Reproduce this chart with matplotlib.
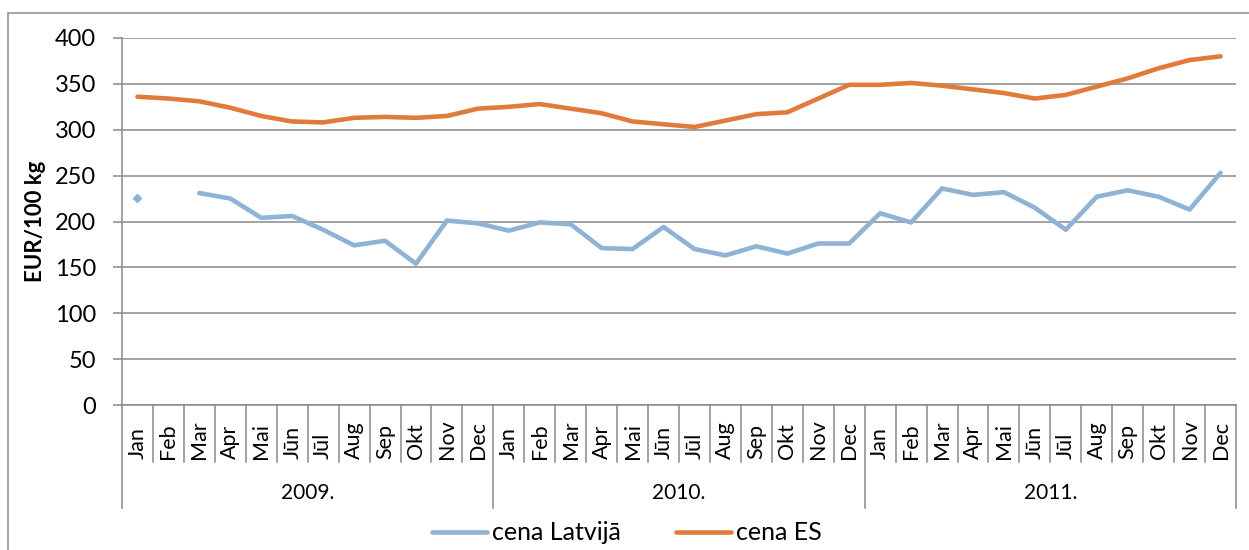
import numpy as np
import matplotlib
matplotlib.use("Agg")
import matplotlib.pyplot as plt
import matplotlib.transforms as mtransforms
from matplotlib.patches import Rectangle
from matplotlib.lines import Line2D

plt.rcParams['font.family'] = ['Lato', 'DejaVu Sans']

months = ["Jan", "Feb", "Mar", "Apr", "Mai", "Jūn", "Jūl", "Aug", "Sep", "Okt", "Nov", "Dec"]
years = ["2009.", "2010.", "2011."]

cena_latvija = [226, np.nan, 231, 225, 204, 206, 191, 174, 179, 154, 201, 198,
                190, 199, 197, 171, 170, 194, 170, 163, 173, 165, 176, 176,
                209, 199, 236, 229, 232, 215, 191, 227, 234, 227, 213, 253]
cena_es = [336, 334, 331, 324, 315, 309, 308, 313, 314, 313, 315, 323,
           325, 328, 323, 318, 309, 306, 303, 310, 317, 319, 334, 349,
           349, 351, 348, 344, 340, 334, 338, 347, 356, 367, 376, 380]

blue = "#8EB3D4"
orange = "#E07B3D"
grid = "#898989"

W, H = 1249, 550
fig = plt.figure(figsize=(W / 100, H / 100), dpi=100)
fig.patches.append(Rectangle((8 / W, -0.1), 1.2, 1 - 13 / H + 0.1, fill=False,
                             edgecolor="#8C8C8C", lw=1.1, transform=fig.transFigure))

ax = fig.add_axes([122 / W, 1 - 405 / H, (1236 - 122) / W, (405 - 38) / H])
x = np.arange(len(cena_es))
lv = np.array(cena_latvija, dtype=float)

ax.plot(x, lv, color=blue, lw=3.3, solid_capstyle='round', solid_joinstyle='round')
ax.plot(x, cena_es, color=orange, lw=3.3, solid_capstyle='round', solid_joinstyle='round')

# isolated points (neighbours missing) show as a small marker
for i in range(len(lv)):
    left = np.isnan(lv[i - 1]) if i > 0 else True
    right = np.isnan(lv[i + 1]) if i < len(lv) - 1 else True
    if not np.isnan(lv[i]) and left and right:
        ax.plot(x[i], lv[i], marker='D', ms=4, color=blue, mec=blue)

ax.set_xlim(-0.5, len(x) - 0.5)
ax.set_ylim(0, 400)
ax.set_yticks(range(0, 401, 50))
ax.yaxis.grid(True, color=grid, lw=1.1)
ax.set_axisbelow(True)
for s in ["top", "right"]:
    ax.spines[s].set_visible(False)
for s in ["left", "bottom"]:
    ax.spines[s].set_color(grid)
    ax.spines[s].set_linewidth(1.1)
ax.tick_params(axis='y', length=6.5, color=grid, width=1.1, pad=12, labelsize=17)
ax.tick_params(axis='x', bottom=False, labelbottom=False)

# two-level category axis
trans = mtransforms.blended_transform_factory(ax.transData, fig.transFigure)
y0 = 1 - 405 / H
for i in range(len(x) + 1):
    ybot = 508 if i % 12 == 0 else 462
    ax.plot([i - 0.5, i - 0.5], [y0, 1 - ybot / H], color=grid, lw=1.1,
            transform=trans, clip_on=False)
for i in range(len(x)):
    ax.text(i, 1 - 459 / H, months[i % 12], rotation=90, ha='center', va='bottom',
            fontsize=15.5, transform=trans)
for k, yr in enumerate(years):
    ax.text(12 * k + 5.5, 1 - 493 / H, yr, ha='center', va='center',
            fontsize=15, transform=trans)

fig.text(35 / W, 1 - 221 / H, "EUR/100 kg", rotation=90, ha='center', va='center',
         fontsize=16, weight='bold')

handles = [Line2D([], [], color=blue, lw=3.3, solid_capstyle='round'),
           Line2D([], [], color=orange, lw=3.3, solid_capstyle='round')]
fig.legend(handles, ["cena Latvijā", "cena ES"], loc='center',
           bbox_to_anchor=(627 / W, 1 - 533 / H), ncol=2, frameon=False,
           fontsize=18, handlelength=2.2, handletextpad=0.2, columnspacing=2.2)

fig.savefig("out.png", dpi=100)
